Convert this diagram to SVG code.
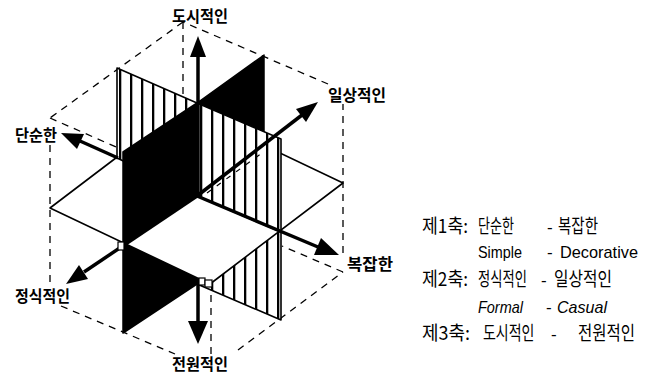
<svg xmlns="http://www.w3.org/2000/svg" width="657" height="376" viewBox="0 0 657 376">
<style>
.dash{fill:none;stroke:#000;stroke-width:1.3;stroke-dasharray:7 6}
.edge{stroke:#000;stroke-width:1.6;stroke-linejoin:round}
.blk{fill:#000;stroke:#000;stroke-width:1.5;stroke-linejoin:round}
.shaft{stroke:#000;stroke-width:3.5;fill:none}
.head{fill:#000}
.lbl{font-family:"Noto Sans CJK KR","Noto Sans",sans-serif;font-size:16px;font-weight:bold;fill:#000}
.lg{font-family:"Noto Sans CJK KR","Noto Sans",sans-serif;font-size:19px;fill:#000}
.lat{font-family:"Liberation Sans",Arial,sans-serif;font-size:17px;fill:#000}
</style>
<defs>
<pattern id="stL" patternUnits="userSpaceOnUse" x="9" y="0" width="11" height="10"><rect width="11" height="10" fill="#fff"/><rect width="2.3" height="10" fill="#000"/></pattern>
<pattern id="stR" patternUnits="userSpaceOnUse" x="2" y="0" width="11" height="10"><rect width="11" height="10" fill="#fff"/><rect width="2.3" height="10" fill="#000"/></pattern>
</defs>
<rect width="657" height="376" fill="#fff"/>
<g id="cube-outline">
<line class="dash" x1="183" y1="22" x2="50" y2="118"/>
<line class="dash" x1="50" y1="145" x2="50" y2="282"/>
<line class="dash" x1="61" y1="306" x2="175" y2="354"/>
<line class="dash" x1="238" y1="350" x2="343" y2="272"/>
<line class="dash" x1="343" y1="253" x2="343" y2="104"/>
<line class="dash" x1="328" y1="84" x2="183" y2="22"/>
<line class="dash" x1="183" y1="22" x2="183" y2="100"/>
<line class="dash" x1="50" y1="118" x2="116" y2="147"/>
<line class="dash" x1="343" y1="272" x2="282" y2="246"/>
<line class="dash" x1="211" y1="354" x2="211" y2="287"/>
</g>
<g id="panel-lower-left"><polygon class="blk" points="123,245 197,196 197,284 123,333"/></g>
<g id="panel-lower-right"><polygon class="edge" fill="url(#stR)" points="197,196 281,232 281,320 197,284"/></g>
<g id="plane"><polygon class="edge" fill="#fff" points="50,208 183,107 343,183 210,284"/></g>
<g id="panel-upper-back-left"><polygon class="edge" fill="url(#stL)" points="117,68 197,103 197,196 117,158"/></g>
<g id="panel-upper-back-right"><polygon class="blk" points="197,103 264,55 264,149 197,196"/></g>
<g id="panel-upper-front-left"><polygon class="blk" points="123,152 197,103 197,196 123,245"/></g>
<g id="panel-upper-front-right"><polygon class="edge" fill="url(#stR)" points="197,103 281,139 281,232 197,196"/></g>
<g id="connectors">
<line class="dash" x1="207" y1="193" x2="262" y2="153" style="stroke-width:1.2;stroke-dasharray:5 7"/>
<line class="shaft" x1="198" y1="55" x2="198" y2="196"/>
<polygon class="head" points="198,36 190,57 206,57"/>
<line class="shaft" x1="198" y1="279" x2="198" y2="323"/>
<polygon class="head" points="198,344 188,321 208,321"/>
<line class="shaft" x1="118" y1="158" x2="80" y2="141"/>
<polygon class="head" points="61,133 84,134 77,149"/>
<line class="shaft" x1="197" y1="196" x2="318" y2="247"/>
<polygon class="head" points="339,255 314,255 321,238"/>
<line class="shaft" x1="197" y1="196" x2="302" y2="115"/>
<polygon class="head" points="318,102 306,122 296,109"/>
<line class="shaft" x1="197" y1="196" x2="84" y2="272"/>
<polygon class="head" points="66,284 88,279 79,265"/>
<rect x="118" y="242" width="6" height="8" fill="#fff" stroke="#000" stroke-width="1.2"/>
<rect x="199" y="278" width="6" height="7" fill="#fff" stroke="#000" stroke-width="1.2"/>
<rect x="205" y="280" width="7" height="7" fill="#fff" stroke="#000" stroke-width="1.2"/>
</g>
<g id="labels">
<text class="lbl" x="172" y="22" textLength="56" lengthAdjust="spacingAndGlyphs">도시적인</text>
<text class="lbl" x="328" y="101" textLength="58" lengthAdjust="spacingAndGlyphs">일상적인</text>
<text class="lbl" x="15" y="141" textLength="42" lengthAdjust="spacingAndGlyphs">단순한</text>
<text class="lbl" x="347" y="270" textLength="46" lengthAdjust="spacingAndGlyphs">복잡한</text>
<text class="lbl" x="15" y="302" textLength="55" lengthAdjust="spacingAndGlyphs">정식적인</text>
<text class="lbl" x="172" y="370" textLength="56" lengthAdjust="spacingAndGlyphs">전원적인</text>
</g>
<g id="legend">
<text class="lg" y="233"><tspan x="422" textLength="46" lengthAdjust="spacingAndGlyphs">제1축:</tspan><tspan x="478" textLength="36" lengthAdjust="spacingAndGlyphs">단순한</tspan><tspan class="lat" x="547">-</tspan><tspan x="558" textLength="40" lengthAdjust="spacingAndGlyphs">복잡한</tspan></text>
<text class="lat" y="258"><tspan x="478" textLength="44" lengthAdjust="spacingAndGlyphs">Simple</tspan><tspan x="547">-</tspan><tspan x="560" textLength="78" lengthAdjust="spacingAndGlyphs">Decorative</tspan></text>
<text class="lg" x="422" y="286" textLength="46" lengthAdjust="spacingAndGlyphs">제2축:</text>
<text class="lg" transform="translate(478,286) scale(0.7,1)">정식적인</text>
<text class="lat" x="541" y="286">-</text>
<text class="lg" transform="translate(554,286) scale(0.83,1)">일상적인</text>
<text class="lat" y="313" font-style="italic"><tspan x="478" textLength="45" lengthAdjust="spacingAndGlyphs">Formal</tspan><tspan x="546" font-style="normal">-</tspan><tspan x="557" textLength="50" lengthAdjust="spacingAndGlyphs">Casual</tspan></text>
<text class="lg" x="422" y="340" textLength="48" lengthAdjust="spacingAndGlyphs">제3축:</text>
<text class="lg" transform="translate(483,340) scale(0.737,1)">도시적인</text>
<text class="lat" x="551" y="340">-</text>
<text class="lg" transform="translate(578,340) scale(0.816,1)">전원적인</text>
</g>
</svg>
